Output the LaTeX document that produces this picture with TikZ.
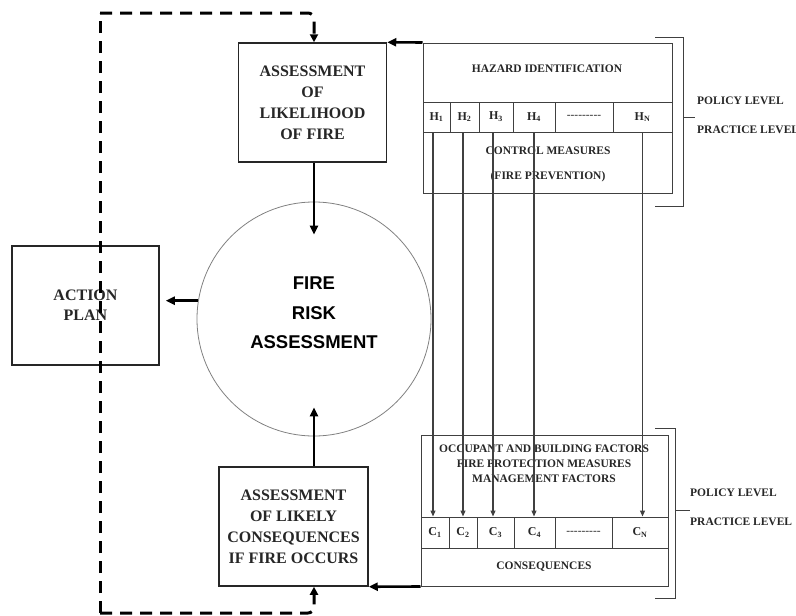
\documentclass[tikz,border=0pt]{standalone}
\usepackage{fontspec}
\setmainfont{Liberation Serif}
\newfontfamily\headsans{Liberation Sans}
\usetikzlibrary{arrows.meta}
\definecolor{ink}{HTML}{262626}
\definecolor{rule}{HTML}{404040}
\begin{document}
\begin{tikzpicture}[x=1pt,y=-1pt,
  stagebox/.style={draw=ink, line width=1.5pt, inner sep=0pt, align=center,
    font=\bfseries\fontsize{16}{21}\selectfont, text=ink},
  panel/.style={draw=rule, line width=1pt, inner sep=0pt},
  cell/.style={draw=rule, line width=1pt, inner sep=0pt,
    font=\bfseries\fontsize{12}{14}\selectfont, text=ink},
  small/.style={font=\bfseries\fontsize{11.5}{15}\selectfont, text=ink,
    align=center, inner sep=0pt},
  flow/.style={line width=2.6pt, -{Triangle[length=9pt,width=8pt]}},
  link/.style={draw=rule, line width=1.2pt, -{Triangle[length=6pt,width=5pt]}},
  loop/.style={line width=3pt, dash pattern=on 12pt off 8pt},
  looptip/.style={-{Triangle[length=8pt,width=8pt]}},
  bracket/.style={draw=rule, line width=1pt},
]
\useasboundingbox (0,0) rectangle (796,616);

% the three assessment stages and the action plan
\node[stagebox, minimum width=148pt, minimum height=119pt] (like) at (312.5,102.5)
  {ASSESSMENT\\OF\\LIKELIHOOD\\OF FIRE};
\node[stagebox, minimum width=149pt, minimum height=119pt] (cons) at (293.5,526.5)
  {ASSESSMENT\\OF LIKELY\\CONSEQUENCES\\IF FIRE OCCURS};
\node[stagebox, minimum width=147pt, minimum height=119pt,
  font=\bfseries\fontsize{16}{20}\selectfont] (plan) at (85.5,305.5) {ACTION\\PLAN};

% central circle
\node[circle, draw=gray, line width=0.8pt, minimum size=234pt, inner sep=0pt] (frc) at (314,319) {};
\node[font=\headsans\bfseries\fontsize{18.5}{29.5}\selectfont, align=center, inner sep=0pt]
  (frctxt) at (314,313) {FIRE\\RISK\\ASSESSMENT};

% hazard panel
\node[panel, minimum width=249pt, minimum height=150pt] (haz) at (547.5,118) {};
\node[small] (hazt) at (547,69) {HAZARD IDENTIFICATION};
\node[cell, minimum width=27pt, minimum height=30pt] (h1) at (436.5,117) {H\textsubscript{1}};
\node[cell, minimum width=29pt, minimum height=30pt] (h2) at (464.5,117) {H\textsubscript{2}};
\node[cell, minimum width=34pt, minimum height=30pt] (h3) at (496,117) {H\textsubscript{3}};
\node[cell, minimum width=42pt, minimum height=30pt] (h4) at (534,117) {H\textsubscript{4}};
\node[cell, minimum width=58pt, minimum height=30pt, font=\fontsize{11.5}{14}\selectfont] (hd) at (584,117) {-{}-{}-{}-{}-{}-{}-{}-{}-};
\node[cell, minimum width=59pt, minimum height=30pt] (hn) at (642.5,117) {H\textsubscript{N}};
\node[small, font=\bfseries\fontsize{11.5}{25}\selectfont] (ctrl) at (548,164.5)
  {CONTROL MEASURES\\(FIRE PREVENTION)};

% consequence panel
\node[panel, minimum width=247pt, minimum height=151pt] (bot) at (544.5,510.5) {};
\node[small] (factors) at (544,464)
  {OCCUPANT AND BUILDING FACTORS\\FIRE PROTECTION MEASURES\\MANAGEMENT FACTORS};
\node[cell, minimum width=28pt, minimum height=31pt] (c1) at (435,532.5) {C\textsubscript{1}};
\node[cell, minimum width=28pt, minimum height=31pt] (c2) at (463,532.5) {C\textsubscript{2}};
\node[cell, minimum width=37pt, minimum height=31pt] (c3) at (495.5,532.5) {C\textsubscript{3}};
\node[cell, minimum width=41pt, minimum height=31pt] (c4) at (534.5,532.5) {C\textsubscript{4}};
\node[cell, minimum width=57pt, minimum height=31pt, font=\fontsize{11.5}{14}\selectfont] (cd) at (583.5,532.5) {-{}-{}-{}-{}-{}-{}-{}-{}-};
\node[cell, minimum width=56pt, minimum height=31pt] (cn) at (640,532.5) {C\textsubscript{N}};
\node[small] (csq) at (544,567) {CONSEQUENCES};

% level labels and brackets
\node[small, anchor=west] (pol1) at (697,101) {POLICY LEVEL};
\node[small, anchor=west] (pra1) at (697,130) {PRACTICE LEVEL};
\node[small, anchor=west] (pol2) at (690,493) {POLICY LEVEL};
\node[small, anchor=west] (pra2) at (690,522) {PRACTICE LEVEL};
\draw[bracket] (655,37) -| (683,206) -- (655,206);
\draw[bracket] (683,117) -- (695,117);
\draw[bracket] (655,428) -| (675,598) -- (655,598);
\draw[bracket] (675,510) -- (690,510);

% hazard to consequence links
\draw[link] ([xshift=-3.5pt]h1.south) -- ([xshift=-3.5pt]h1.south |- c1.north);
\draw[link] ([xshift=-1.5pt]h2.south) -- ([xshift=-1.5pt]h2.south |- c2.north);
\draw[link] ([xshift=-3pt]h3.south) -- ([xshift=-3pt]h3.south |- c3.north);
\draw[link] (h4.south) -- (h4.south |- c4.north);
\draw[link] (hn.south) -- (hn.south |- cn.north);

% main flow
\draw[flow] (haz.north west) -- (like.north east);
\draw[flow] (bot.south west) -- (cons.south east);
\draw[flow] (like.south -| frc.north) -- ([yshift=-33pt]frc.north);
\draw[flow] (cons.north -| frc.south) -- ([yshift=29pt]frc.south);
\draw[flow, shorten >=6pt] (frc.171.6) -- (plan.east |- frc.171.6);

% review loop: sharp corners on the left, rounded where it turns into the stages
\coordinate (loopturn) at (100,13);
\coordinate (loopbase) at (100,613);
\draw[loop] (loopbase) -- (loopturn);
\draw[loop, looptip, rounded corners=6pt] (loopturn) -| (like.north -| frc.north);
\draw[loop, looptip, rounded corners=6pt] (loopbase) -| (cons.south -| frc.south);
\end{tikzpicture}
\end{document}
